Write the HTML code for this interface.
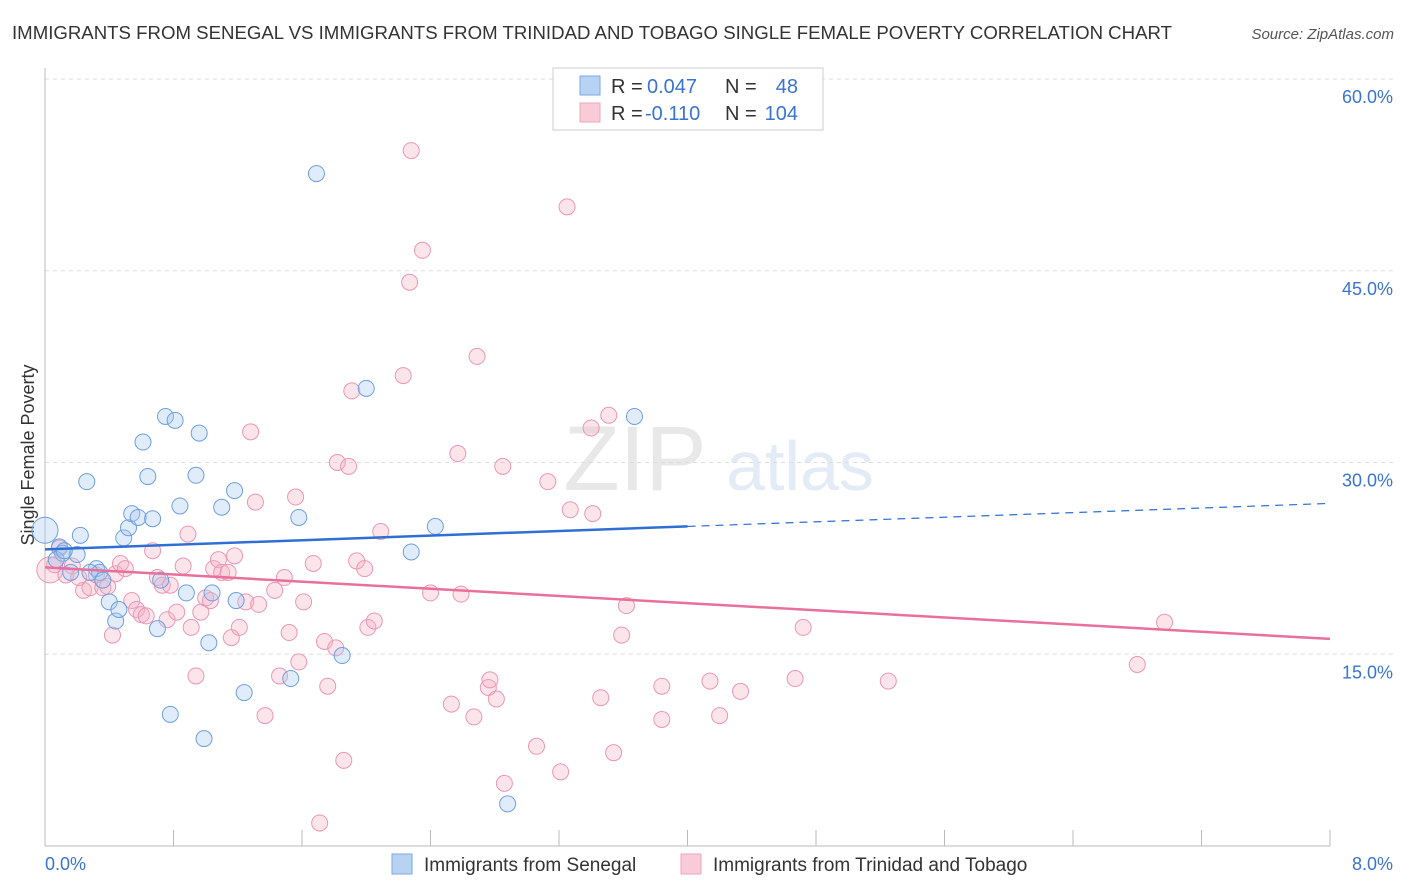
<!DOCTYPE html>
<html><head><meta charset="utf-8"><style>
body{margin:0;background:#fff;font-family:"Liberation Sans",sans-serif;}
#wrap{position:relative;width:1406px;height:892px;overflow:hidden;}
svg text{font-family:"Liberation Sans",sans-serif;}
</style></head><body>
<div id="wrap">
<svg id="svg" width="1406" height="892">
<text x="12" y="39" font-size="18" fill="#333" textLength="1160" lengthAdjust="spacingAndGlyphs">IMMIGRANTS FROM SENEGAL VS IMMIGRANTS FROM TRINIDAD AND TOBAGO SINGLE FEMALE POVERTY CORRELATION CHART</text>
<text x="1394" y="39" font-size="15" fill="#555" font-style="italic" text-anchor="end">Source: ZipAtlas.com</text>
<text x="635" y="490" font-size="92" fill="#e8e8e8" font-family="Liberation Serif" text-anchor="middle">ZIP</text>
<text x="800" y="490" font-size="70" fill="#e2ebf6" text-anchor="middle">atlas</text>
<text transform="translate(34,455) rotate(-90)" font-size="18" fill="#333" text-anchor="middle">Single Female Poverty</text>
<g id="grid"></g><g id="marks"></g>
<g>
<rect x="553" y="68" width="270" height="62" fill="#fff" stroke="#ccc"/>
<rect x="580" y="76" width="20" height="19" fill="#b8d2f4" stroke="#7aa8e4"/>
<rect x="580" y="103" width="20" height="19" fill="#f9cad8" stroke="#eea5bd"/>
<text x="611" y="93" font-size="20" fill="#333">R =</text>
<text x="647" y="93" font-size="20" fill="#3a74d0">0.047</text>
<text x="725" y="93" font-size="20" fill="#333">N =</text>
<text x="798" y="93" font-size="20" fill="#3a74d0" text-anchor="end">48</text>
<text x="611" y="120" font-size="20" fill="#333">R =</text>
<text x="645" y="120" font-size="20" fill="#3a74d0">-0.110</text>
<text x="725" y="120" font-size="20" fill="#333">N =</text>
<text x="798" y="120" font-size="20" fill="#3a74d0" text-anchor="end">104</text>
</g>
<g>
<rect x="392" y="854" width="20" height="20" fill="#b8d2f4" stroke="#7aa8e4"/>
<text x="424" y="871" font-size="19" fill="#333">Immigrants from Senegal</text>
<rect x="681" y="854" width="20" height="20" fill="#f9cad8" stroke="#eea5bd"/>
<text x="713" y="871" font-size="19" fill="#333">Immigrants from Trinidad and Tobago</text>
</g>
</svg></div>
<script>
const yTicks=[15,30,45,60];
const xTickLabels=["0.0%","8.0%"];
const blueX=[0,0.09,0.11,0.20,0.22,0.26,0.32,0.34,0.40,0.44,0.46,0.49,0.52,0.54,0.58,0.61,0.64,0.67,0.70,0.72,0.75,0.78,0.81,0.84,0.88,0.94,0.96,0.99,1.02,1.04,1.10,1.18,1.19,1.24,1.53,1.58,1.69,1.85,2.00,2.28,2.43,2.88,3.67,0.16,0.28,0.36,0.07,0.12];
const blueY=[24.7,23.4,22.9,22.8,24.3,28.5,21.7,21.4,19.1,17.6,18.5,24.1,24.9,26.0,25.7,31.6,28.9,25.6,17.0,20.8,33.6,10.3,33.3,26.6,19.8,29.0,32.3,8.4,15.9,19.8,26.5,27.8,19.2,12.0,13.1,25.7,52.6,14.9,35.8,23.0,25.0,3.3,33.6,21.4,21.4,20.8,22.4,23.1];
const pinkX=[0.03,0.06,0.09,0.13,0.17,0.21,0.24,0.28,0.32,0.36,0.39,0.42,0.44,0.47,0.50,0.54,0.57,0.60,0.63,0.67,0.70,0.73,0.76,0.78,0.82,0.86,0.89,0.91,0.94,0.97,1.00,1.03,1.05,1.08,1.10,1.14,1.16,1.18,1.21,1.25,1.28,1.31,1.33,1.37,1.43,1.46,1.49,1.52,1.56,1.58,1.61,1.67,1.71,1.74,1.76,1.81,1.82,1.86,1.89,1.91,1.94,1.99,2.01,2.05,2.09,2.23,2.27,2.28,2.35,2.40,2.53,2.57,2.59,2.67,2.69,2.76,2.77,2.81,2.85,2.86,3.06,3.13,3.21,3.25,3.27,3.40,3.41,3.46,3.51,3.54,3.59,3.62,3.84,3.84,4.14,4.20,4.33,4.67,4.72,5.25,6.80,6.97];
const pinkY=[21.6,22.0,23.3,21.2,21.9,21.0,20.0,20.2,21.2,20.2,20.3,16.5,21.3,22.1,21.7,19.2,18.5,18.1,18.0,23.1,21.0,20.4,17.7,20.4,18.3,21.9,24.4,17.1,13.3,18.3,19.4,19.2,21.7,22.4,21.4,21.4,16.3,22.7,17.1,19.1,32.4,26.9,18.9,10.2,20.0,13.3,21.0,16.7,27.3,14.4,19.1,22.1,1.8,16.0,12.5,15.5,30.0,6.7,29.7,35.6,22.3,21.7,17.1,17.6,24.6,36.8,44.1,54.4,46.6,19.8,11.1,30.7,19.7,10.1,38.3,12.4,13.0,11.5,29.7,4.9,7.8,28.5,5.8,50.0,26.3,32.7,26.0,11.6,33.7,7.3,16.5,18.8,9.9,12.5,12.9,10.2,12.1,13.1,17.1,12.9,14.2,17.5];
const blueTrend=[23.2,26.8];
const pinkTrend=[21.8,16.2];
const NS="http://www.w3.org/2000/svg";
const X=v=>45+v/8*1285, Y=v=>846-v/60*767;
function mk(t,a,p){const e=document.createElementNS(NS,t);for(const k in a)e.setAttribute(k,a[k]);p.appendChild(e);return e;}
const grid=document.getElementById('grid'),marks=document.getElementById('marks');
yTicks.forEach(t=>{
 const l=mk('line',{x1:45,x2:1394,y1:Y(t),y2:Y(t),stroke:'#ddd','stroke-dasharray':'4,4'},grid);
 
 
 const tx=mk('text',{x:1393,y:Y(t)+24,'font-size':18,fill:'#3a74d0','text-anchor':'end'},grid);
 tx.textContent=t.toFixed(1)+'%';
 
 
});
const ax=mk('line',{x1:45,x2:1330,y1:846,y2:846,stroke:'#bbb'},grid);


const ay=mk('line',{x1:45,x2:45,y1:68,y2:846,stroke:'#bbb'},grid);


for(let i=0;i<=10;i++){const t=mk('line',{x1:X(i*0.8),x2:X(i*0.8),y1:830,y2:846,stroke:'#bbb'},grid);
 
 }
[[45,'start',0],[1393,'end',1]].forEach(([x,a,i])=>{const t=mk('text',{x:x,y:870,'font-size':18,fill:'#3a74d0','text-anchor':a},grid);t.textContent=xTickLabels[i];
 
 });
function pts(xs,ys,fill,stroke,name){xs.forEach((x,i)=>{const c=mk('circle',{cx:X(x),cy:Y(ys[i]),r:(i==0?13:8),fill:fill,'fill-opacity':0.35,stroke:stroke,'stroke-width':1},marks);
 
 });}
pts(pinkX,pinkY,'#f5b3c7','#eb97b3','pink-point');
pts(blueX,blueY,'#a9c8f0','#6e9fdf','blue-point');
const bSlope=(blueTrend[1]-blueTrend[0])/8;
const b1=mk('line',{x1:X(0),y1:Y(blueTrend[0]),x2:X(4),y2:Y(blueTrend[0]+bSlope*4),stroke:'#2f6fd3','stroke-width':2.5},marks);


const b2=mk('line',{x1:X(4),y1:Y(blueTrend[0]+bSlope*4),x2:X(8),y2:Y(blueTrend[1]),stroke:'#2f6fd3','stroke-width':1.2,'stroke-dasharray':'8,6'},marks);


const p1=mk('line',{x1:X(0),y1:Y(pinkTrend[0]),x2:X(8),y2:Y(pinkTrend[1]),stroke:'#e8709a','stroke-width':2.5},marks);


</script>
</body></html>
